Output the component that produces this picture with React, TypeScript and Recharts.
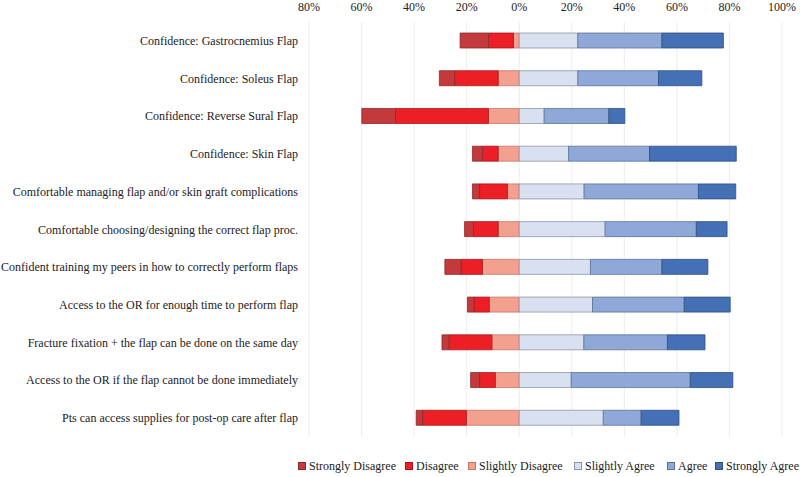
import { BarChart, Bar, XAxis, YAxis, CartesianGrid } from "recharts";

const categories = [
  "Confidence: Gastrocnemius Flap",
  "Confidence: Soleus Flap",
  "Confidence: Reverse Sural Flap",
  "Confidence: Skin Flap",
  "Comfortable managing flap and/or skin graft complications",
  "Comfortable choosing/designing the correct flap proc.",
  "Confident training my peers in how to correctly perform flaps",
  "Access to the OR for enough time to perform flap",
  "Fracture fixation + the flap can be done on the same day",
  "Access to the OR if the flap cannot be done immediately",
  "Pts can access supplies for post-op care after flap",
];

// percentages; disagree side stored as positive numbers
const stronglyDisagree = [10.8, 5.8, 12.8, 3.8, 2.7, 3.4, 6.1, 2.5, 2.6, 3.4, 2.4];
const disagree = [9.5, 16.6, 35.4, 6.0, 10.6, 9.4, 8.2, 5.8, 16.4, 6.0, 16.7];
const slightlyDisagree = [2.2, 8.0, 11.7, 8.0, 4.5, 8.0, 14.0, 11.4, 10.4, 9.1, 20.1];
const slightlyAgree = [22.3, 22.3, 9.5, 18.8, 24.7, 32.7, 27.1, 27.9, 24.6, 19.8, 32.0];
const agree = [32.0, 30.7, 24.6, 30.8, 43.5, 34.7, 27.2, 34.9, 31.8, 45.3, 14.4];
const stronglyAgree = [23.4, 16.5, 6.1, 33.0, 14.2, 11.7, 17.5, 17.5, 14.3, 16.2, 14.4];

const xTicks = [-80, -60, -40, -20, 0, 20, 40, 60, 80, 100];

const FONT = '"Liberation Serif", "Times New Roman", Times, serif';

const series = [
  { key: "sd", name: "Strongly Disagree", color: "#c4393c", border: "#8e2a2c" },
  { key: "d", name: "Disagree", color: "#ec1f27", border: "#a8161b" },
  { key: "sld", name: "Slightly Disagree", color: "#f4a08e", border: "#c07a6c" },
  { key: "sla", name: "Slightly Agree", color: "#d9e1f1", border: "#8c96aa" },
  { key: "a", name: "Agree", color: "#8ea9d8", border: "#5d7197" },
  { key: "sa", name: "Strongly Agree", color: "#4470b6", border: "#2f4f82" },
];

// x of each legend marker, as in the reference
const legendX = [298, 405, 468, 574, 667, 715];

const data = categories.map((label, i) => ({
  label,
  sd: -stronglyDisagree[i],
  d: -disagree[i],
  sld: -slightlyDisagree[i],
  sla: slightlyAgree[i],
  a: agree[i],
  sa: stronglyAgree[i],
}));

// negative side stacks outward from zero, so the nearest category goes first
const stackOrder = ["sld", "d", "sd", "sla", "a", "sa"];

function CategoryTick({ x, y, payload }: any) {
  return (
    <text x={x} y={y} dy={4} textAnchor="end" fontSize={12} fill="#222" fontFamily={FONT}>
      {payload.value}
    </text>
  );
}

export default function App() {
  return (
    <div style={{ position: "relative", width: 800, height: 477, fontFamily: FONT, background: "#fff" }}>
      <style>{`body{margin:0}`}</style>
      <BarChart
        width={800}
        height={477}
        data={data}
        layout="vertical"
        stackOffset="sign"
        margin={{ top: 0, right: 18, bottom: 40, left: 0 }}
      >
        <CartesianGrid horizontal={false} stroke="#ececec" />
        <XAxis
          type="number"
          orientation="top"
          domain={[-80, 100]}
          ticks={xTicks}
          tickFormatter={(v) => `${Math.abs(v)}%`}
          axisLine={false}
          tickLine={false}
          tickMargin={5}
          height={22}
          tick={{ fontSize: 12, fill: "#222", fontFamily: FONT }}
        />
        <YAxis
          type="category"
          dataKey="label"
          width={309}
          axisLine={false}
          tickLine={false}
          tickMargin={5}
          interval={0}
          tick={<CategoryTick />}
        />
        {stackOrder.map((k) => {
          const s = series.find((x) => x.key === k)!;
          return (
            <Bar
              key={k}
              dataKey={k}
              name={s.name}
              stackId="likert"
              fill={s.color}
              stroke={s.border}
              strokeWidth={0.8}
              barSize={15}
              isAnimationActive={false}
            />
          );
        })}
      </BarChart>
      {series.map((s, i) => (
        <div
          key={s.key}
          style={{
            position: "absolute",
            top: 458,
            left: legendX[i],
            display: "flex",
            alignItems: "center",
            fontSize: 12,
            color: "#222",
            lineHeight: "16px",
            whiteSpace: "nowrap",
          }}
        >
          <span
            style={{
              display: "inline-block",
              width: 6,
              height: 6,
              background: s.color,
              border: `1px solid ${s.border}`,
              marginRight: 3,
            }}
          />
          <span>{s.name}</span>
        </div>
      ))}
    </div>
  );
}
